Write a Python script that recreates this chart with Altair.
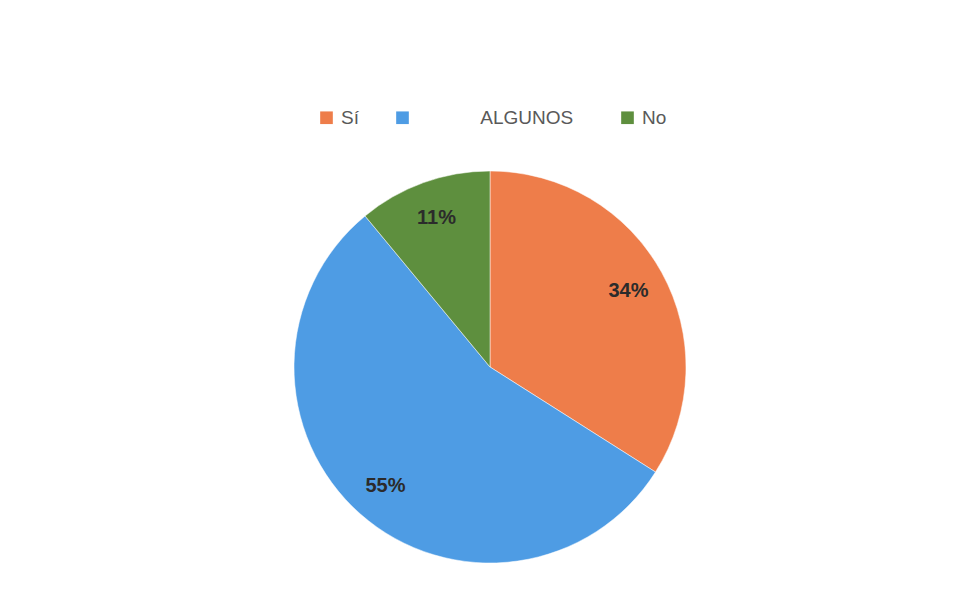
import altair as alt
import pandas as pd

categories = ["Sí", "ALGUNOS", "No"]
values = [34, 55, 11]
labels = ["34%", "55%", "11%"]
colors = ["#EE7D4A", "#4E9CE4", "#5E8F3E"]

df = pd.DataFrame({
    "cat": categories,
    "val": values,
    "lab": labels,
    "ord": list(range(len(categories))),
})

nb = "\u00a0"
zw = "\u200b"
label_expr = (
    f"datum.label == 'ALGUNOS' ? '{zw}{nb * 12}ALGUNOS{nb * 2}{zw}' : datum.label"
)

base = alt.Chart(df).encode(
    theta=alt.Theta("val:Q", stack=True),
    order=alt.Order("ord:Q"),
)

pie = base.mark_arc(outerRadius=196, stroke="#ffffff", strokeWidth=0.5).encode(
    color=alt.Color(
        "cat:N",
        scale=alt.Scale(domain=categories, range=colors),
        sort=categories,
        legend=alt.Legend(
            title=None,
            orient="none",
            direction="horizontal",
            legendX=227,
            legendY=-59,
            symbolType="square",
            symbolSize=160,
            symbolStrokeWidth=0,
            labelFont="Liberation Sans",
            labelFontSize=19,
            labelColor="#595959",
            labelOffset=5,
            columnPadding=34,
            labelExpr=label_expr,
            labelLimit=400,
        ),
    )
)

text = base.mark_text(
    radius=158,
    font="Liberation Sans",
    fontSize=20,
    fontWeight="bold",
    color="#2b2b2b",
    align="center",
    baseline="middle",
).encode(text="lab:N")

chart = (
    (pie + text)
    .properties(
        width=800,
        height=400,
        padding={"left": 82, "top": 100, "right": 0, "bottom": 0},
        background="#ffffff",
    )
    .configure_view(stroke=None)
)

chart.save("out.html", embed_options={"renderer": "svg", "actions": False})
